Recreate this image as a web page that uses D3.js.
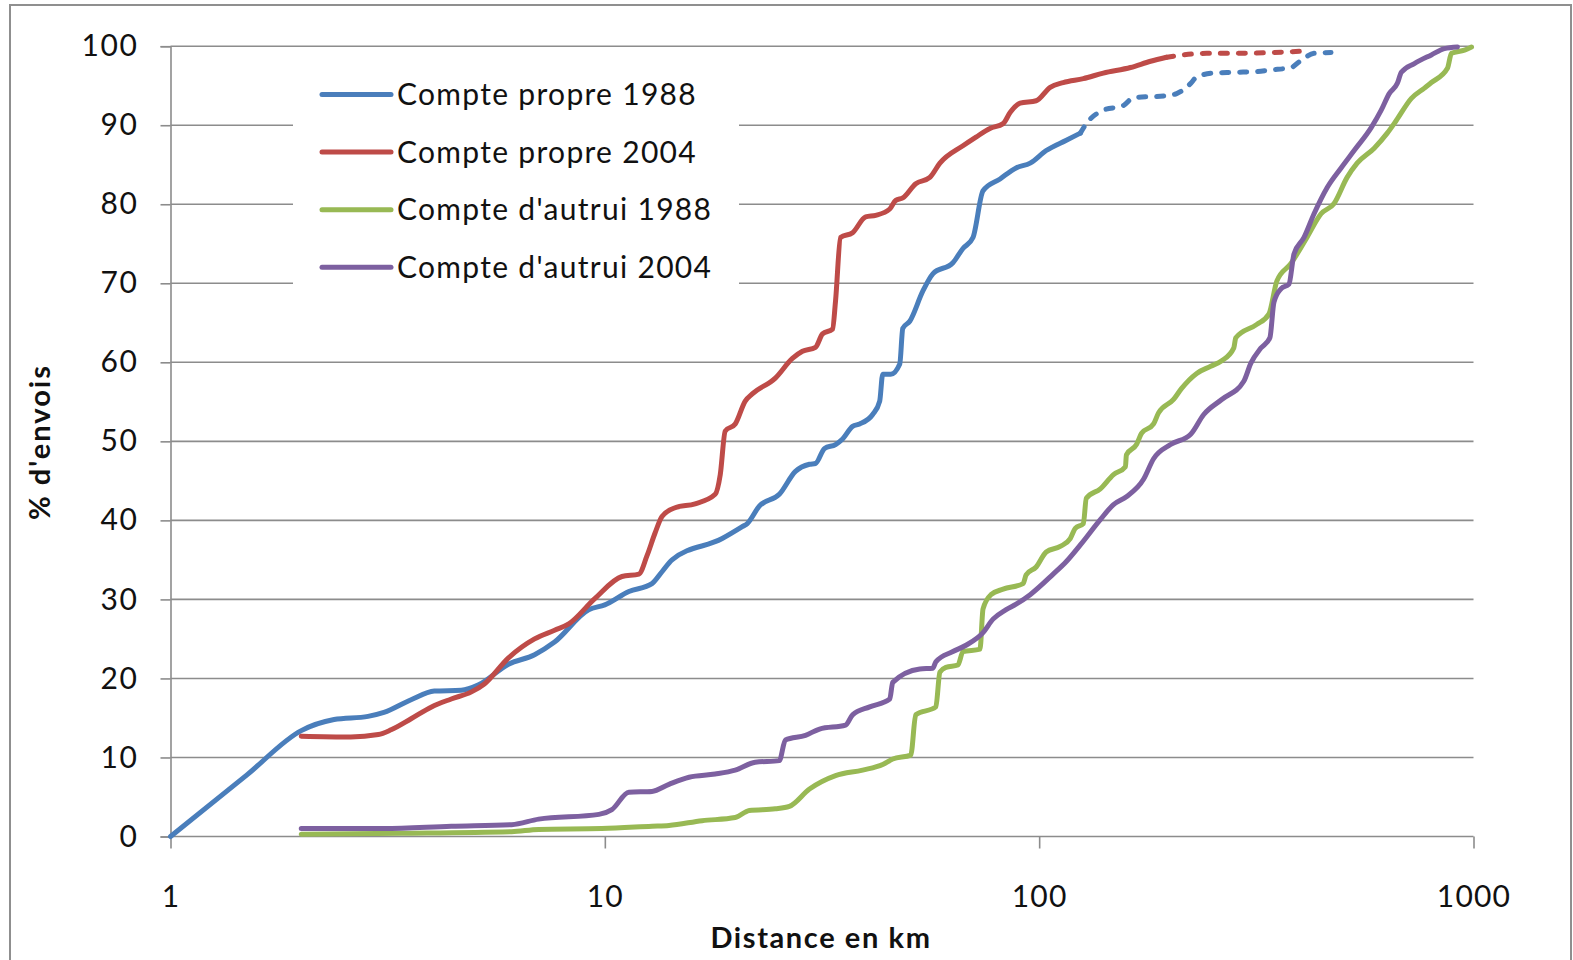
<!DOCTYPE html>
<html>
<head>
<meta charset="utf-8">
<script src="https://cdn.jsdelivr.net/npm/d3@7"></script>
<style>
  html, body { margin: 0; padding: 0; background: #fff; }
  svg { display: block; }
  text { font-family: Lato, "Open Sans", sans-serif; fill: #111; }
</style>
</head>
<body>
<svg id="chart" width="1573" height="960"></svg>
<script>
// ---------- DATA ----------
const seriesNames = ["Compte propre 1988", "Compte propre 2004", "Compte d'autrui 1988", "Compte d'autrui 2004"];
const xTickValues = [1, 10, 100, 1000];
const yTickValues = [0, 10, 20, 30, 40, 50, 60, 70, 80, 90, 100];

// Compte propre 1988 (km, % cumulé)
const cp1988Km  = [1, 1.5, 2, 2.38, 2.85, 3.10, 3.58, 4.05, 4.67, 5.12, 6.00, 6.89, 7.66, 9.18, 10.0, 11.36, 12.84, 13.54, 14.28, 18.63, 20.72, 21.28, 22.68, 25.22, 27.47, 29.59, 30.55, 32.05, 33.98, 35.27, 37.19, 38.60, 41.37, 42.94, 43.63, 45.53, 47.76, 48.53, 50.36, 53.96, 56.91, 63.30, 66.76, 70.41, 74.26, 81.28, 88.49, 95.34, 103.8, 115.5, 124.4, 128.4, 140.5, 156.3, 164.9, 193.4, 207.3, 223.3, 230.5, 252.3, 285.1, 317.1, 341.7, 379.9, 400.6, 429.4, 469.9];
const cp1988Pct = [0, 7.8, 13.4, 14.8, 15.2, 15.7, 17.3, 18.4, 18.5, 19.2, 21.8, 23.0, 24.6, 28.7, 29.3, 31.0, 32.0, 33.5, 35.0, 37.7, 39.2, 39.6, 41.8, 43.3, 46.2, 47.1, 47.2, 49.1, 49.6, 50.3, 51.9, 52.2, 53.4, 55.1, 58.5, 58.5, 59.8, 64.3, 65.2, 69.0, 71.2, 72.6, 74.4, 75.8, 81.7, 83.2, 84.6, 85.2, 86.8, 88.1, 89.0, 90.2, 91.9, 92.5, 93.5, 93.7, 94.0, 95.3, 96.1, 96.6, 96.7, 96.8, 97.0, 97.3, 98.2, 99.1, 99.2];
const cp1988SparseFrom = 124.4;

// Compte propre 2004
const cp2004Km  = [2, 2.60, 3.01, 3.22, 3.58, 3.99, 4.43, 4.93, 5.28, 6.00, 6.89, 7.66, 8.26, 9.48, 10.95, 11.98, 12.50, 13.05, 13.54, 14.51, 16.14, 17.95, 18.44, 18.93, 19.96, 21.05, 21.85, 24.69, 27.03, 28.51, 30.55, 31.71, 33.44, 33.98, 34.89, 37.19, 39.86, 42.04, 45.29, 46.75, 48.53, 51.98, 56.01, 59.08, 66.76, 71.53, 77.05, 82.60, 85.71, 90.39, 98.42, 106.0, 113.6, 126.4, 140.5, 162.3, 180.5, 196.5, 215.1, 243.1, 266.0, 285.1, 413.6];
const cp2004Pct = [12.7, 12.6, 12.9, 13.5, 14.9, 16.4, 17.4, 18.3, 19.3, 22.6, 25.0, 26.1, 26.9, 30.1, 32.9, 33.2, 35.5, 38.4, 40.5, 41.6, 42.1, 43.3, 45.8, 51.3, 52.2, 55.1, 56.0, 58.0, 60.5, 61.4, 61.9, 63.6, 64.2, 67.8, 75.8, 76.4, 78.4, 78.6, 79.4, 80.5, 80.8, 82.6, 83.4, 85.2, 87.4, 88.5, 89.6, 90.2, 91.6, 92.8, 93.1, 94.8, 95.4, 95.9, 96.6, 97.3, 98.1, 98.6, 98.9, 99.1, 99.1, 99.1, 99.4];
const cp2004SparseFrom = 196.5;

// Compte d'autrui 1988
const ca1988Km  = [2, 3.40, 6.10, 7.04, 9.84, 12.84, 14.05, 16.75, 19.96, 21.51, 24.69, 26.60, 29.59, 33.98, 39.22, 43.63, 46.01, 50.63, 51.98, 57.82, 59.08, 61.00, 65.01, 66.76, 73.07, 74.26, 77.45, 82.60, 91.84, 93.32, 98.42, 103.8, 111.8, 117.9, 121.1, 126.4, 128.4, 138.3, 148.3, 158.0, 158.8, 167.5, 172.0, 183.4, 188.3, 203.9, 212.8, 230.5, 248.3, 263.2, 280.5, 283.6, 317.1, 338.0, 352.7, 379.9, 413.6, 445.7, 477.5, 511.7, 539.6, 590.8, 633.0, 664.1, 719.4, 770.9, 799.8, 871.0, 889.7, 953.3, 989.5];
const ca1988Pct = [0.3, 0.4, 0.6, 0.9, 1.0, 1.3, 1.4, 2.0, 2.4, 3.3, 3.5, 3.8, 6.0, 7.7, 8.4, 9.1, 9.8, 10.3, 15.4, 16.4, 20.8, 21.4, 21.7, 23.4, 23.7, 28.8, 30.6, 31.3, 32.0, 33.1, 34.1, 36.0, 36.7, 37.7, 39.0, 39.6, 42.8, 44.0, 45.8, 46.8, 48.3, 49.6, 51.0, 52.2, 53.6, 55.3, 56.7, 58.6, 59.5, 60.2, 61.8, 63.1, 64.8, 66.1, 70.3, 72.5, 75.8, 78.8, 80.1, 83.4, 85.2, 87.1, 89.0, 90.6, 93.4, 94.7, 95.4, 97.2, 99.1, 99.5, 99.9];

// Compte d'autrui 2004
const ca2004Km  = [2, 3.10, 4.43, 6.10, 7.04, 9.69, 10.38, 11.36, 12.84, 14.05, 15.63, 17.95, 19.96, 22.20, 25.22, 26.04, 28.97, 31.21, 35.84, 37.19, 40.72, 45.29, 46.01, 53.11, 56.91, 57.82, 63.30, 67.84, 74.26, 78.30, 83.93, 88.49, 95.34, 107.7, 115.5, 124.4, 138.3, 148.3, 158.8, 173.9, 183.4, 200.7, 223.3, 239.3, 263.2, 295.9, 307.2, 323.9, 339.8, 347.1, 360.3, 376.0, 386.1, 407.2, 429.4, 460.1, 495.6, 531.1, 581.4, 613.1, 639.7, 667.8, 682.1, 730.8, 799.8, 857.0, 918.5];
const ca2004Pct = [1.0, 1.0, 1.3, 1.5, 2.2, 2.8, 3.4, 5.6, 5.7, 6.6, 7.5, 7.9, 8.4, 9.4, 9.6, 12.2, 12.8, 13.6, 14.1, 15.4, 16.4, 17.4, 19.5, 21.2, 21.3, 22.1, 23.4, 24.2, 25.8, 27.5, 28.7, 29.4, 30.6, 33.2, 34.8, 36.9, 40.1, 42.0, 43.0, 45.2, 47.8, 49.6, 50.9, 53.4, 55.3, 57.6, 59.9, 61.8, 63.1, 67.6, 69.3, 69.9, 73.7, 75.8, 78.8, 82.1, 84.6, 86.8, 89.7, 91.9, 94.0, 95.3, 96.7, 97.8, 98.9, 99.7, 99.9];

// ---------- DRAW ----------
const colors = ["#4A7EBB", "#BE4B48", "#98B954", "#7D60A0"];
const series = [
  { name: seriesNames[0], km: cp1988Km, pct: cp1988Pct, sparseFrom: cp1988SparseFrom, color: colors[0] },
  { name: seriesNames[1], km: cp2004Km, pct: cp2004Pct, sparseFrom: cp2004SparseFrom, color: colors[1] },
  { name: seriesNames[2], km: ca1988Km, pct: ca1988Pct, sparseFrom: Infinity, color: colors[2] },
  { name: seriesNames[3], km: ca2004Km, pct: ca2004Pct, sparseFrom: Infinity, color: colors[3] }
];

const svg = d3.select("#chart");
const mLeft = 170.5, mRight = 1473.5, mTop = 46.2, mBottom = 836.5;
const x = d3.scaleLog().domain([1, 1000]).range([mLeft, mRight]);
const y = d3.scaleLinear().domain([0, 100]).range([mBottom, mTop]);
const gridColor = "#8c8c8c";

// outer frame
svg.append("rect").attr("x", 10).attr("y", 5).attr("width", 1561).attr("height", 970)
  .attr("fill", "none").attr("stroke", "#8f8f8f").attr("stroke-width", 2);

// horizontal gridlines
svg.append("g").selectAll("line").data(yTickValues.filter(v => v > 0)).join("line")
  .attr("x1", mLeft).attr("x2", mRight)
  .attr("y1", d => y(d)).attr("y2", d => y(d))
  .attr("stroke", gridColor).attr("stroke-width", 1.6);

// Y axis
const yAxis = svg.append("g").attr("transform", `translate(${mLeft},0)`)
  .call(d3.axisLeft(y).tickValues(yTickValues).tickSize(10).tickPadding(22).tickFormat(d3.format("d")));
yAxis.select(".domain").attr("stroke", gridColor).attr("stroke-width", 1.6);
yAxis.selectAll(".tick line").attr("stroke", gridColor).attr("stroke-width", 1.6);
yAxis.selectAll("text").style("font-family", "Lato").style("font-size", "30px")
  .style("letter-spacing", "1.6px").attr("fill", "#111");

// X axis
const xAxis = svg.append("g").attr("transform", `translate(0,${mBottom})`)
  .call(d3.axisBottom(x).tickValues(xTickValues).tickSize(12).tickPadding(37).tickFormat(d3.format("d")));
xAxis.select(".domain").attr("stroke", gridColor).attr("stroke-width", 1.6).attr("d", `M${mLeft},0H${mRight}`);
xAxis.selectAll(".tick line").attr("stroke", gridColor).attr("stroke-width", 1.6);
xAxis.selectAll("text").style("font-family", "Lato").style("font-size", "30px")
  .style("letter-spacing", "1.2px").attr("fill", "#111");

// axis titles
svg.append("text").attr("x", 821).attr("y", 948).attr("text-anchor", "middle")
  .style("font-size", "29px").style("font-weight", "bold").style("letter-spacing", "1.6px").text("Distance en km");
svg.append("text").attr("transform", "translate(50,442) rotate(-90)").attr("text-anchor", "middle")
  .style("font-size", "29px").style("font-weight", "bold").style("letter-spacing", "2px").text("% d'envois");

// legend
const lg = svg.append("g");
lg.append("rect").attr("x", 293).attr("y", 62).attr("width", 446).attr("height", 229).attr("fill", "#fff");
series.forEach((s, i) => {
  const ly = 94.5 + i * 57.6;
  lg.append("line").attr("x1", 322).attr("x2", 391).attr("y1", ly).attr("y2", ly)
    .attr("stroke", s.color).attr("stroke-width", 5).attr("stroke-linecap", "round");
  lg.append("text").attr("x", 397).attr("y", ly + 10.5).style("font-size", "30px")
    .style("letter-spacing", "1.3px").text(s.name);
});

// series lines
const line = d3.line().x(d => x(d[0])).y(d => y(d[1])).curve(d3.curveMonotoneX);
series.forEach(s => {
  const pts = s.km.map((k, i) => [k, s.pct[i]]);
  const solid = pts.filter(p => p[0] <= s.sparseFrom);
  const sparse = pts.filter(p => p[0] >= s.sparseFrom);
  svg.append("path").attr("d", line(solid)).attr("fill", "none")
    .attr("stroke", s.color).attr("stroke-width", 5).attr("stroke-linejoin", "round").attr("stroke-linecap", "round");
  if (sparse.length > 1) {
    svg.append("path").attr("d", line(sparse)).attr("fill", "none")
      .attr("stroke", s.color).attr("stroke-width", 5).attr("stroke-linecap", "round")
      .attr("stroke-dasharray", "7,11");
  }
});
</script>
</body>
</html>
